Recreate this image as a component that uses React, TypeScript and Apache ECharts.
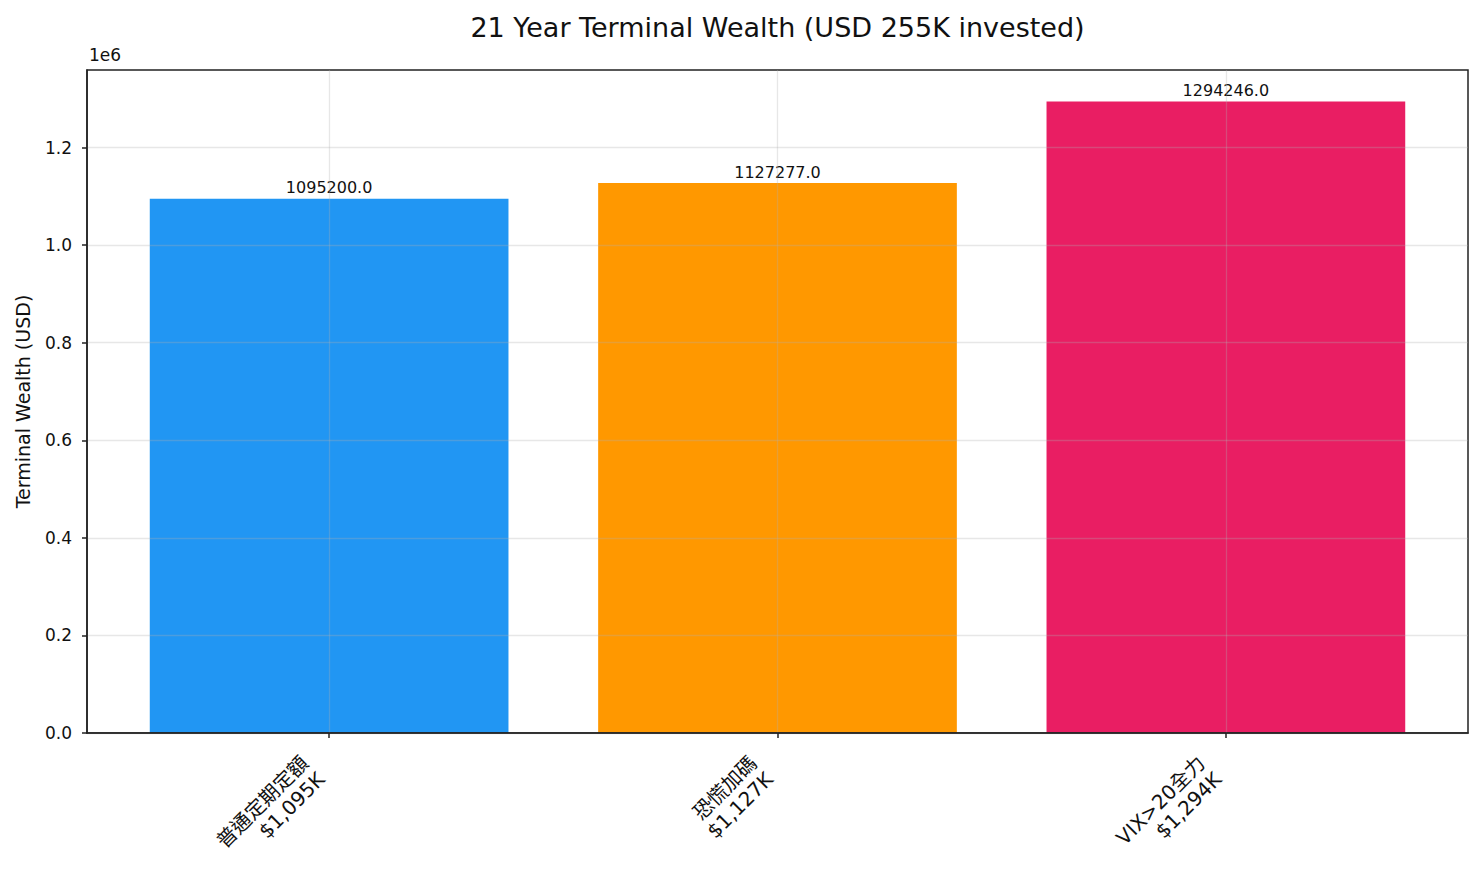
import React, { useEffect, useRef } from "react";
import * as echarts from "echarts";

const categories = ["普通定期定額\n$1,095K", "恐慌加碼\n$1,127K", "VIX>20全力\n$1,294K"];
const values = [1095200, 1127277, 1294246];
const colors = ["#2196F3", "#FF9800", "#E91E63"];
const yTicks = [0, 200000, 400000, 600000, 800000, 1000000, 1200000];
const titleText = "21 Year Terminal Wealth (USD 255K invested)";
const yName = "Terminal Wealth (USD)";

const FONT = '"DejaVu Sans", "Noto Sans CJK TC", sans-serif';

export default function App() {
  const ref = useRef<HTMLDivElement>(null);
  useEffect(() => {
    if (!ref.current) return;
    const chart = echarts.init(ref.current, undefined, { renderer: "svg" });
    const yMax = Math.max(...values) * 1.05;
    const xs = categories.map((_, i) => i);
    const gridStyle = { color: "#b0b0b0", opacity: 0.3, width: 1.3 };
    chart.setOption({
      animation: false,
      backgroundColor: "#ffffff",
      textStyle: { fontFamily: FONT },
      grid: { left: 87, right: 16, top: 70, bottom: 149, show: true, borderColor: "#222", borderWidth: 1.5, backgroundColor: "transparent", z: 3 },
      graphic: [
        { type: "text", x: 777.5, y: 27, z: 10, style: { text: titleText, font: `27px ${FONT}`, fill: "#111", align: "center", verticalAlign: "middle" } },
        { type: "text", x: 89, y: 55, z: 10, style: { text: "1e6", font: `17px ${FONT}`, fill: "#111", align: "left", verticalAlign: "middle" } },
      ],
      xAxis: {
        type: "value",
        min: -0.54,
        max: 2.54,
        z: 3,
        axisLine: { show: true, onZero: false, lineStyle: { color: "#222", width: 1.5 } },
        axisTick: { show: true, customValues: xs, length: 5, lineStyle: { color: "#222", width: 1.5 } },
        axisLabel: {
          show: true,
          customValues: xs,
          rotate: 45,
          margin: 51,
          align: "right",
          verticalAlign: "bottom",
          fontSize: 20,
          lineHeight: 23,
          color: "#111",
          fontFamily: FONT,
          formatter: (v: number) => categories[Math.round(v)] ?? "",
        },
        splitLine: { show: false },
      },
      yAxis: {
        type: "value",
        min: 0,
        max: yMax,
        interval: 200000,
        z: 3,
        name: yName,
        nameLocation: "middle",
        nameGap: 55,
        nameRotate: 90,
        nameTextStyle: { fontSize: 19, color: "#111", fontFamily: FONT },
        axisLine: { show: true, onZero: false, lineStyle: { color: "#222", width: 1.5 } },
        axisTick: { show: true, customValues: yTicks, length: 5, lineStyle: { color: "#222", width: 1.5 } },
        axisLabel: {
          customValues: yTicks,
          fontSize: 17,
          color: "#111",
          margin: 15,
          formatter: (v: number) => (v / 1e6).toFixed(1),
        },
        splitLine: { show: true, lineStyle: gridStyle },
      },
      series: [
        {
          type: "custom",
          z: 2,
          data: values.map((v, i) => [i, v]),
          encode: { x: 0, y: 1 },
          renderItem: (params: any, api: any) => {
            const x = api.value(0);
            const v = api.value(1);
            const top = api.coord([x, v]);
            const base = api.coord([x, 0]);
            const w = api.size([0.8, 0])[0];
            const idx = params.dataIndex;
            return {
              type: "group",
              children: [
                {
                  type: "rect",
                  shape: { x: top[0] - w / 2, y: top[1], width: w, height: base[1] - top[1] },
                  style: { fill: colors[idx] },
                },
                {
                  type: "text",
                  x: top[0],
                  y: top[1] - 3,
                  style: { text: v.toFixed(1), font: `16px ${FONT}`, fill: "#111", align: "center", verticalAlign: "bottom" },
                },
              ],
            };
          },
          markLine: {
            silent: true,
            symbol: "none",
            label: { show: false },
            lineStyle: { type: "solid", ...gridStyle },
            z: 3,
            data: xs.map((x) => ({ xAxis: x })),
          },
        },
      ],
    });
    return () => chart.dispose();
  }, []);
  return <div ref={ref} style={{ position: "fixed", left: 0, top: 0, width: 1484, height: 882 }} />;
}
